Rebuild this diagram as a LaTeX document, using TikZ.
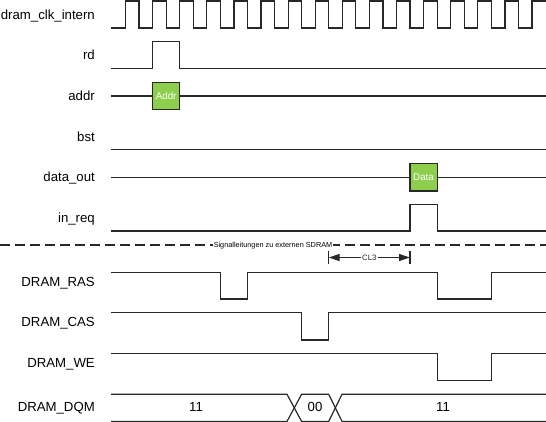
\documentclass[tikz,border=0pt]{standalone}
\usepackage{fontspec}
\setmainfont{Liberation Sans}
\usetikzlibrary{arrows.meta}
\definecolor{timingGreen}{RGB}{141, 207, 76}
\definecolor{timingGray}{RGB}{40, 40, 40}

\begin{document}
\begin{tikzpicture}[
  x=1pt,y=-1pt,
  wave/.style={draw=timingGray,line width=1.2pt},
  sig/.style={
    anchor=base east,
    inner sep=0pt,
    font=\fontsize{13.2}{15}\selectfont
  },
  val/.style={anchor=base,inner sep=0pt,font=\fontsize{13.2}{15}\selectfont},
  databox/.style={
    draw=timingGray,
    line width=1.2pt,
    fill=timingGreen,
    text=white,
    inner sep=0pt,
    minimum width=27.1pt,
    minimum height=27.6pt,
    font=\fontsize{9.8}{11}\selectfont
  },
  note/.style={fill=white,inner sep=1pt,font=\fontsize{7.3}{8}\selectfont},
  dim/.style={{Triangle[length=11pt,width=7pt]}-{Triangle[length=11pt,width=7pt]},timingGray,line width=1.2pt}
]
  \useasboundingbox (0,0) rectangle (546,422);

  \node[sig] (lclk) at (95,19.3) {dram\_clk\_intern};
  \node[sig] (lrd) at (95,59.3) {rd};
  \node[sig] (laddr) at (95,100.7) {addr};
  \node[sig] (lbst) at (95,141.7) {bst};
  \node[sig] (ldata) at (95,181.7) {data\_out};
  \node[sig] (lreq) at (95,222.7) {in\_req};
  \node[sig] (lras) at (95,286.7) {DRAM\_RAS};
  \node[sig] (lcas) at (95,326.7) {DRAM\_CAS};
  \node[sig] (lwe) at (95,367.7) {DRAM\_WE};
  \node[sig] (ldqm) at (95,411) {DRAM\_DQM};

  \draw[wave] (111,28) -- (125.5,28)
    foreach \k in {0,...,14} { |- ({139.05+27.1*\k},1) |- ({152.6+27.1*\k},28) }
    |- (546,1);
  \draw[wave] (111,68.5) -| (152.6,41.2) -| (179.7,68.5) -- (546,68.5);

  \node[databox] (addr) at (166.15,96) {Addr};
  \draw[wave] (111,96) -- (addr) -- (546,96);

  \draw[wave] (111,149.5) -- (546,149.5);

  \node[databox] (data) at (423.55,177.3) {Data};
  \draw[wave] (111,177.3) -- (data) -- (546,177.3);

  \draw[wave] (111,231) -| (410,204.3) -| (437.1,231) -- (546,231);

  \draw[timingGray,line width=1.3pt,dash pattern=on 9.5pt off 5.5pt] (0,245) -- (546,245);
  \node[note] (ext) at (273,245.5) {Signalleitungen zu externen SDRAM};

  \coordinate (cla) at (328.7,257.5);
  \coordinate (clb) at (410,257.5);
  \draw[timingGray,line width=1.2pt] (cla) ++(0,-7) -- ++(0,13.5);
  \draw[timingGray,line width=1.2pt] (clb) ++(0,-7) -- ++(0,13.5);
  \draw[dim] (cla) -- (clb) node[midway,note,font=\fontsize{7.8}{8}\selectfont] (cl) {CL3};

  \draw[wave] (111,272.3) -| (220.3,299) -| (247.4,272.3) -| (437.1,299) -| (491.3,272.3) -- (546,272.3);
  \draw[wave] (111,312.3) -| (301.6,340) -| (328.7,312.3) -- (546,312.3);
  \draw[wave] (111,353.7) -| (437.1,380.7) -| (491.3,353.7) -- (546,353.7);

  \draw[wave] (111,394.3) -- (287,394.3) -- (301.6,421.4) -- (328.7,421.4) -- (342,394.3) -- (546,394.3);
  \draw[wave] (111,421.4) -- (287,421.4) -- (301.6,394.3) -- (328.7,394.3) -- (342,421.4) -- (546,421.4);
  \node[val] (dqma) at (196,411.5) {11};
  \node[val] (dqmb) at (315,411.5) {00};
  \node[val] (dqmc) at (443,411.5) {11};
\end{tikzpicture}
\end{document}
